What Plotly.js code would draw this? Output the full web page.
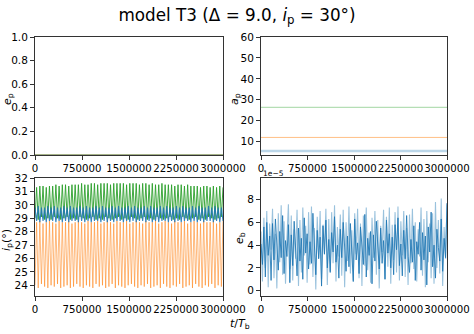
<!DOCTYPE html>
<html>
<head>
<meta charset="utf-8">
<script src="https://cdn.plot.ly/plotly-3.0.1.min.js"></script>
<style>
  html, body { margin: 0; padding: 0; background: #fff; }
  #plot { width: 474px; height: 334px; }
</style>
</head>
<body>
<div id="plot"></div>
<script>
// time axis
const T_END = 3000000;
const xTicks = [0, 750000, 1500000, 2250000, 3000000];

// e_p (top left): all planets stay near zero
const epTimes = [0, 750000, 1500000, 2250000, 3000000];
const epBlue = [0.002, 0.003, 0.002, 0.003, 0.002];
const epOrange = [0.003, 0.002, 0.003, 0.002, 0.003];
const epGreen = [0.002, 0.002, 0.003, 0.002, 0.002];

// a_p (top right): flat semi-major axes
const apTimes = [0, 750000, 1500000, 2250000, 3000000];
const apBlue = [5.5, 5.5, 5.5, 5.5, 5.5];
const apOrange = [12.0, 12.0, 12.0, 12.0, 12.0];
const apGreen = [26.4, 26.4, 26.4, 26.4, 26.4];

// i_p (bottom left): per-cycle troughs and peaks
const orangeLow = [24.0,23.8,24.1,23.9,23.8,24.0,23.9,24.1,23.8,23.9,24.0,23.8,23.9,24.1,23.9,23.8,24.0,23.9,23.8,24.1,
  23.9,24.0,23.8,23.9,24.1,23.8,24.0,23.9,23.8,24.0,24.1,23.9,23.8,24.0,23.9,24.1,23.8,23.9,24.0,23.8,
  24.1,23.9,23.8,24.0,23.9,24.1,23.8,23.9,24.0,23.8,24.1,23.9,23.8,24.0,23.9,24.1,23.8,24.0,23.9];
const orangeHigh = [28.7,28.8,28.6,28.7,28.8,28.7,28.6,28.8,28.7,28.7,28.8,28.6,28.7,28.8,28.7,28.6,28.8,28.7,28.7,28.8,
  28.6,28.7,28.8,28.7,28.6,28.8,28.7,28.7,28.8,28.6,28.7,28.8,28.7,28.6,28.8,28.7,28.7,28.8,28.6,28.7,
  28.8,28.7,28.6,28.8,28.7,28.7,28.8,28.6,28.7,28.8,28.7,28.6,28.8,28.7,28.7,28.8,28.6,28.7,28.8];
const greenLow = [29.0,28.9,29.1,28.9,29.0,28.9,29.1,29.0,28.9,29.0,29.1,28.9,29.0,28.9,29.1,29.0,28.9,29.0,29.1,28.9,
  29.0,28.9,29.1,29.0,28.9,29.0,29.1,28.9,29.0,28.9,29.1,29.0,28.9,29.0,29.1,28.9,29.0,28.9,29.1,29.0,
  28.9,29.0,29.1,28.9,29.0,28.9,29.1,29.0,28.9,29.0,29.1,28.9,29.0,28.9,29.1,29.0,28.9,29.0,29.1];
const greenHigh = [31.3,31.4,31.4,31.3,31.4,31.4,31.5,31.4,31.5,31.5,31.4,31.5,31.5,31.5,31.6,31.5,31.5,31.6,31.6,31.5,
  31.6,31.6,31.6,31.5,31.6,31.6,31.6,31.6,31.5,31.6,31.6,31.6,31.5,31.6,31.6,31.5,31.6,31.5,31.5,31.6,
  31.5,31.5,31.5,31.4,31.5,31.5,31.4,31.5,31.4,31.4,31.4,31.3,31.4,31.4,31.3,31.4,31.3,31.4,31.3];
const blueLow = [28.8,28.7,28.8,28.7,28.8,28.8,28.7,28.8,28.7,28.8,28.7,28.8,28.8,28.7,28.8,28.7,28.8,28.7,28.8,28.8,
  28.7,28.8,28.7,28.8,28.7,28.8,28.8,28.7,28.8,28.7,28.8,28.7,28.8,28.8,28.7,28.8,28.7,28.8,28.7,28.8,
  28.8,28.7,28.8,28.7,28.8,28.7,28.8,28.8,28.7,28.8,28.7,28.8,28.7,28.8,28.8,28.7,28.8,28.7,28.8];
const blueHigh = [29.8,29.9,29.8,29.8,29.9,29.8,29.9,29.8,29.8,29.9,29.8,29.9,29.8,29.8,29.9,29.8,29.9,29.8,29.8,29.9,
  29.8,29.9,29.8,29.8,29.9,29.8,29.9,29.8,29.8,29.9,29.8,29.9,29.8,29.8,29.9,29.8,29.9,29.8,29.8,29.9,
  29.8,29.9,29.8,29.8,29.9,29.8,29.9,29.8,29.8,29.9,29.8,29.9,29.8,29.8,29.9,29.8,29.9,29.8,29.8];

// e_b (bottom right), in units of 1e-5
const ebDark = [4.1,2.3,5.6,1.2,6.0,3.1,4.8,0.9,5.9,2.7,6.3,3.5,1.8,5.2,2.9,6.6,1.5,4.4,3.0,5.8,
  0.7,4.9,2.2,6.1,3.8,1.3,5.5,2.6,4.6,1.0,6.4,3.3,5.0,1.9,4.3,2.4,6.8,3.6,1.4,5.3,
  2.8,4.7,0.4,5.7,3.2,6.2,2.0,4.5,1.6,5.1,3.4,6.5,2.5,4.0,1.1,5.4,2.9,6.0,3.7,1.7,
  4.8,2.1,5.9,3.0,0.8,6.3,2.7,4.2,1.5,5.6,3.9,2.3,6.7,1.2,4.6,3.1,5.2,0.6,4.9,2.6,
  6.1,3.5,1.9,5.5,2.4,4.4,1.0,6.2,3.3,5.0,2.0,4.7,1.4,5.8,3.6,6.4,2.2,4.1,1.3,5.3,
  2.8,6.6,3.0,1.6,4.5,2.5,5.7,0.9,4.3,3.2,6.0,1.8,5.1,2.7,4.8,0.5,5.6,3.4,6.9,2.1,
  4.0,1.1,5.4,3.8,2.6,6.3,1.7,4.6,2.9,7.7];
const ebLight = [5.2,0.8,6.4,2.0,7.0,0.3,5.9,3.6,7.2,1.1,5.0,0.2,6.8,2.5,7.5,1.4,6.1,0.6,4.7,7.6,
  1.9,6.6,0.9,5.4,2.8,7.1,0.4,6.2,1.6,7.3,3.1,5.7,0.7,6.9,2.3,7.4,1.2,5.5,0.1,6.5,
  2.9,7.0,1.0,5.8,3.3,7.2,0.5,6.3,1.7,6.9,2.4,7.5,0.8,5.6,3.0,6.7,1.3,7.1,0.3,6.0,
  2.6,7.4,1.5,5.3,0.9,6.8,3.2,7.2,1.1,5.9,0.4,6.6,2.2,7.3,1.8,5.1,0.7,6.4,2.9,7.0,
  1.4,6.2,0.2,5.7,3.4,7.1,1.0,6.5,2.1,7.3,0.6,5.8,2.7,6.9,1.6,7.4,0.9,6.1,3.1,7.0,
  1.2,5.5,0.5,6.7,2.4,7.2,1.9,6.0,0.8,5.4,3.0,7.3,1.3,6.3,0.3,7.0,2.5,5.9,1.1,6.8,
  0.6,7.8,2.0,6.2,1.5,8.1,0.4,5.6,2.8,7.6];

const FONT = "DejaVu Sans, sans-serif";

function zigzag(low, high) {
  const n = Math.min(low.length, high.length);
  const ys = [];
  for (let i = 0; i < n; i++) ys.push(low[i], high[i]);
  return ys;
}
function evenTimes(n) {
  const xs = [];
  for (let i = 0; i < n; i++) xs.push(i * T_END / (n - 1));
  return xs;
}
function line(x, y, color, width, xa, ya) {
  return {
    type: "scatter", mode: "lines", x, y,
    line: { color, width }, xaxis: xa, yaxis: ya,
    hoverinfo: "skip", showlegend: false
  };
}

const orangeY = zigzag(orangeLow, orangeHigh);
const greenY = zigzag(greenLow, greenHigh);
const blueY = zigzag(blueHigh, blueLow);

const traces = [
  line(epTimes, epBlue, "rgba(31,119,180,0.45)", 1, "x", "y"),
  line(epTimes, epOrange, "rgba(255,127,14,0.35)", 1, "x", "y"),
  line(epTimes, epGreen, "rgba(44,160,44,0.3)", 1, "x", "y"),

  line(apTimes, apBlue, "rgba(31,119,180,0.3)", 2.5, "x2", "y2"),
  line(apTimes, apOrange, "rgba(255,127,14,0.5)", 1, "x2", "y2"),
  line(apTimes, apGreen, "rgba(44,160,44,0.35)", 1.2, "x2", "y2"),

  line(evenTimes(orangeY.length), orangeY, "rgba(255,127,14,0.6)", 0.9, "x3", "y3"),
  line(evenTimes(greenY.length), greenY, "rgba(44,160,44,0.9)", 1, "x3", "y3"),
  line(evenTimes(blueY.length), blueY, "rgba(31,119,180,0.9)", 1.1, "x3", "y3"),

  line(evenTimes(ebLight.length), ebLight, "rgba(31,119,180,0.45)", 1.1, "x4", "y4"),
  line(evenTimes(ebDark.length), ebDark, "rgba(31,119,180,0.95)", 0.9, "x4", "y4")
];

const colL = [35 / 474, 223 / 474];
const colR = [261 / 474, 447 / 474];
const rowT = [1 - 155 / 334, 1 - 37 / 334];
const rowB = [1 - 296 / 334, 1 - 178 / 334];

function xAxis(domain, anchor) {
  return {
    domain, anchor, range: [0, T_END], tickvals: xTicks, ticktext: xTicks.map(String),
    tickangle: 0,
    showline: true, mirror: true, linecolor: "#333", linewidth: 1,
    ticks: "outside", ticklen: 4, tickcolor: "#333", showgrid: false, zeroline: false,
    tickfont: { family: FONT, size: 10.2, color: "#000" }
  };
}
function yAxis(domain, anchor, range, tickvals, ticktext) {
  return {
    domain, anchor, range, tickvals, ticktext,
    showline: true, mirror: true, linecolor: "#333", linewidth: 1,
    ticks: "outside", ticklen: 4, tickcolor: "#333", showgrid: false, zeroline: false,
    tickfont: { family: FONT, size: 10.5, color: "#000" }
  };
}
function yTitle(text, xPx, yPx) {
  return {
    text, xref: "paper", yref: "paper", x: xPx / 474, y: 1 - yPx / 334,
    xanchor: "center", yanchor: "middle", textangle: -90, showarrow: false,
    font: { family: FONT, size: 11, color: "#000" }
  };
}

const layout = {
  width: 474, height: 334,
  margin: { l: 0, r: 0, t: 0, b: 0 },
  paper_bgcolor: "#fff", plot_bgcolor: "#fff",
  font: { family: FONT, color: "#000" },
  showlegend: false,
  title: {
    text: "model T3 (Δ = 9.0, <i>i</i><sub>p</sub> = 30°)",
    font: { family: FONT, size: 16.8, color: "#000" },
    x: 0.5, xanchor: "center", y: 1 - 15 / 334, yanchor: "middle"
  },
  xaxis: xAxis(colL, "y"),
  yaxis: yAxis(rowT, "x", [0, 1], [0, 0.2, 0.4, 0.6, 0.8, 1.0],
    ["0.0", "0.2", "0.4", "0.6", "0.8", "1.0"]),
  xaxis2: xAxis(colR, "y2"),
  yaxis2: yAxis(rowT, "x2", [3.6, 60], [10, 20, 30, 40, 50, 60],
    ["10", "20", "30", "40", "50", "60"]),
  xaxis3: xAxis(colL, "y3"),
  yaxis3: yAxis(rowB, "x3", [23.2, 32], [24, 25, 26, 27, 28, 29, 30, 31, 32],
    ["24", "25", "26", "27", "28", "29", "30", "31", "32"]),
  xaxis4: xAxis(colR, "y4"),
  yaxis4: yAxis(rowB, "x4", [-0.47, 9.9], [0, 2, 4, 6, 8],
    ["0", "2", "4", "6", "8"]),
  annotations: [
    yTitle("<i>e</i><sub>p</sub>", 8, 99),
    yTitle("<i>a</i><sub>p</sub>", 235, 99),
    yTitle("<i>i</i><sub>p</sub>(°)", 7, 240),
    yTitle("<i>e</i><sub>b</sub>", 240, 238),
    {
      text: "<i>t</i>/<i>T</i><sub>b</sub>", xref: "paper", yref: "paper",
      x: 240 / 474, y: 1 - 324 / 334, xanchor: "center", yanchor: "middle",
      showarrow: false, font: { family: FONT, size: 11, color: "#000" }
    },
    {
      text: "1e−5", xref: "paper", yref: "paper",
      x: 261 / 474, y: 1 - 173 / 334, xanchor: "left", yanchor: "middle",
      showarrow: false, font: { family: FONT, size: 7.5, color: "#000" }
    }
  ]
};

Plotly.newPlot("plot", traces, layout, { staticPlot: true, displayModeBar: false });
</script>
</body>
</html>
